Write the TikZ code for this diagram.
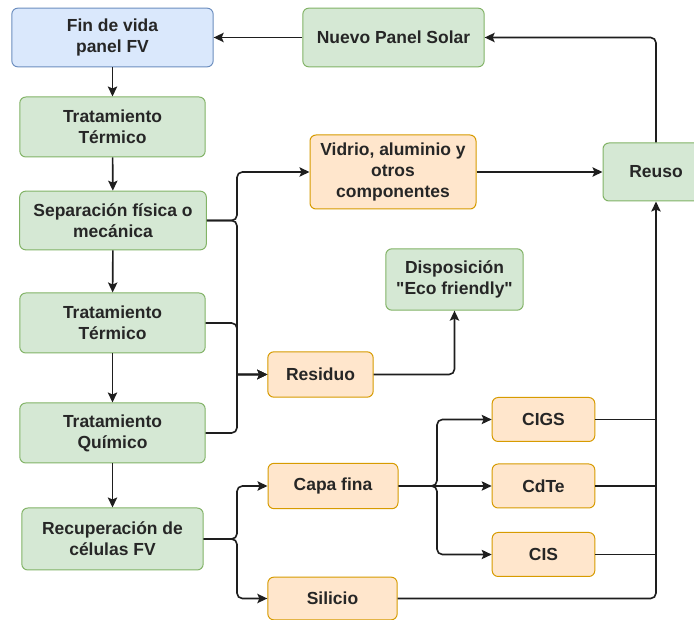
\documentclass[tikz,border=0pt]{standalone}
\usepackage{fontspec}
\setmainfont{Liberation Sans}[Ligatures=TeXOff]
\usepackage{tikz}
\usetikzlibrary{arrows.meta,positioning,calc}
\definecolor{fvedge}{RGB}{30,30,30}
\definecolor{fvgrn}{RGB}{213,232,212}
\definecolor{fvgrnd}{RGB}{130,179,102}
\definecolor{fvblu}{RGB}{218,232,252}
\definecolor{fvblud}{RGB}{108,142,191}
\definecolor{fvorg}{RGB}{255,230,204}
\definecolor{fvorgd}{RGB}{215,155,0}
\tikzset{
  fvbox/.style={
    draw, line width=0.75pt, rounded corners=4.5pt,
    align=center, inner sep=2pt, text=black!85,
    font=\fontsize{13.1}{15.75}\selectfont\bfseries
  },
  grn/.style={fvbox, fill=fvgrn, draw=fvgrnd},
  blu/.style={fvbox, fill=fvblu, draw=fvblud},
  org/.style={fvbox, fill=fvorg, draw=fvorgd},
  arr/.style={-{Stealth[length=7.5pt,width=7pt,inset=1.5pt]}, draw=fvedge, line width=1.2pt, rounded corners=4pt},
  link/.style={draw=fvedge, line width=1.2pt}
}

\begin{document}
\begin{tikzpicture}[x=0.75pt, y=-0.75pt]
  \fill[white] (0,0) rectangle (694,620);
  \clip (0,0) rectangle (694,620);
  % left column
  \node[blu, minimum width=151pt, minimum height=44pt] (fin) at (112.5,37.5) {Fin de vida\\panel FV};
  \node[grn, minimum width=139pt, minimum height=45pt] (tt1) at (112.5,127) {Tratamiento\\Térmico};
  \node[grn, minimum width=140pt, minimum height=44pt] (sep) at (113,220.5) {Separación física o\\mecánica};
  \node[grn, minimum width=139pt, minimum height=45pt] (tt2) at (112.5,323) {Tratamiento\\Térmico};
  \node[grn, minimum width=139pt, minimum height=45pt] (tq) at (112.5,433) {Tratamiento\\Químico};
  \node[grn, minimum width=136pt, minimum height=46.5pt] (rec) at (112.5,539) {Recuperación de\\células FV};
  % top row and outputs
  \node[grn, minimum width=136pt, minimum height=44pt] (nuevo) at (393.5,37.5) {Nuevo Panel Solar};
  \node[org, minimum width=124.5pt, minimum height=55.5pt] (vidrio) at (393,172) {Vidrio, aluminio y\\otros\\componentes};
  \node[grn, minimum width=79.5pt, minimum height=43.5pt] (reuso) at (656,172) {Reuso};
  \node[grn, minimum width=103pt, minimum height=46pt] (eco) at (454.5,279.5) {Disposición\\"Eco friendly"};
  \node[org, minimum width=79pt, minimum height=34pt] (res) at (320.5,374.5) {Residuo};
  \node[org, minimum width=97.5pt, minimum height=34pt] (capa) at (333,486) {Capa fina};
  \node[org, minimum width=97pt, minimum height=32pt] (sil) at (332.5,598.5) {Silicio};
  \node[org, minimum width=77pt, minimum height=33pt] (cigs) at (543.5,419.5) {CIGS};
  \node[org, minimum width=77pt, minimum height=33pt] (cdte) at (543.5,486) {CdTe};
  \node[org, minimum width=77pt, minimum height=33pt] (cis) at (543.5,554.5) {CIS};
  \coordinate (bus) at (237,0);
  \coordinate (split) at (437,0);

  \foreach \p/\q in {fin/tt1,tt1/sep,sep/tt2,tt2/tq,tq/rec}
    \draw[arr] (\p) -- (\q);
  \draw[arr] (sep.east) -- (sep.east -| bus) |- (vidrio.west);
  \foreach \p in {sep,tt2,tq}
    \draw[arr] (\p.east) -- (\p.east -| bus) [sharp corners] |- (res.west);
  \draw[arr] (rec.east) -- (rec.east -| bus) |- (capa.west);
  \draw[arr] (rec.east) -- (rec.east -| bus) |- (sil.west);
  \draw[arr] (capa.east) -- (capa.east -| split) |- (cigs.west);
  \draw[arr] (capa.east) -- (cdte.west);
  \draw[arr] (capa.east) -- (capa.east -| split) |- (cis.west);
  \draw[arr] (res.east) -| (eco.south);
  \draw[arr] (vidrio.east) -- (reuso.west);
  \foreach \p in {cigs,cdte,cis}
    \draw[link] (\p.east) -- (\p.east -| reuso.south);
  \draw[arr] (sil.east) -| (reuso.south);
  \draw[arr] (reuso.north) |- (nuevo.east);
  \draw[arr] (nuevo.west) -- (fin.east);
\end{tikzpicture}
\end{document}
